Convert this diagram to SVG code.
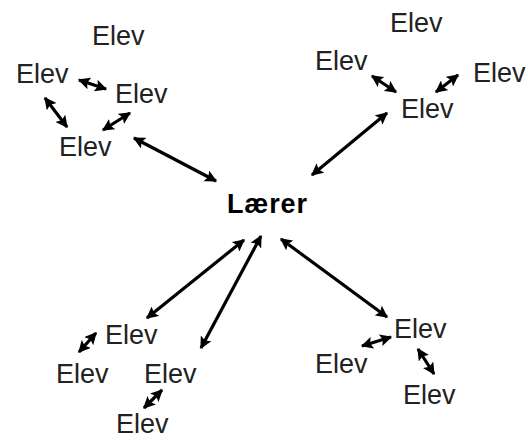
<svg xmlns="http://www.w3.org/2000/svg" width="528" height="442" viewBox="0 0 528 442">
<defs>
<marker id="ah" viewBox="0 0 10 10" refX="9" refY="5" markerWidth="3.8" markerHeight="3.8" orient="auto-start-reverse" markerUnits="strokeWidth">
<path d="M0,0 L10,5 L0,10 L2,5 z" fill="#000"/>
</marker>
<style>
text{font-family:"Liberation Sans",Arial,sans-serif;font-size:27px;fill:#222}
.t{font-weight:bold;fill:#000}
.c line{stroke:#000;stroke-width:3.2;marker-start:url(#ah);marker-end:url(#ah)}
</style>
</defs>
<rect width="528" height="442" fill="#fff"/>
<g id="laerer"><text class="t" x="227" y="213" textLength="80">Lærer</text></g>
<g id="e1"><text x="92" y="45">Elev</text></g>
<g id="e2"><text x="16" y="83">Elev</text></g>
<g id="e3"><text x="115" y="103">Elev</text></g>
<g id="e4"><text x="59" y="156">Elev</text></g>
<g id="e5"><text x="390" y="32">Elev</text></g>
<g id="e6"><text x="315" y="70">Elev</text></g>
<g id="e7"><text x="473" y="82">Elev</text></g>
<g id="e8"><text x="401" y="118">Elev</text></g>
<g id="e9"><text x="105" y="344">Elev</text></g>
<g id="e10"><text x="56" y="383">Elev</text></g>
<g id="e11"><text x="144" y="383">Elev</text></g>
<g id="e12"><text x="116" y="433">Elev</text></g>
<g id="e13"><text x="394" y="338">Elev</text></g>
<g id="e14"><text x="315" y="373">Elev</text></g>
<g id="e15"><text x="403" y="404">Elev</text></g>
<g id="connectors" class="c">
<line x1="79" y1="80" x2="106" y2="89"/>
<line x1="45" y1="98" x2="67" y2="127"/>
<line x1="103" y1="130" x2="130" y2="113"/>
<line x1="134" y1="138" x2="216" y2="181"/>
<line x1="372" y1="76" x2="396" y2="92"/>
<line x1="458" y1="75" x2="436" y2="92"/>
<line x1="387" y1="113" x2="312" y2="175"/>
<line x1="244" y1="240" x2="147" y2="318"/>
<line x1="261" y1="236" x2="201" y2="348"/>
<line x1="96" y1="333" x2="79" y2="352"/>
<line x1="162" y1="390" x2="144" y2="408"/>
<line x1="281" y1="239" x2="387" y2="317"/>
<line x1="391" y1="337" x2="362" y2="346"/>
<line x1="418" y1="349" x2="434" y2="374"/>
</g>
</svg>
